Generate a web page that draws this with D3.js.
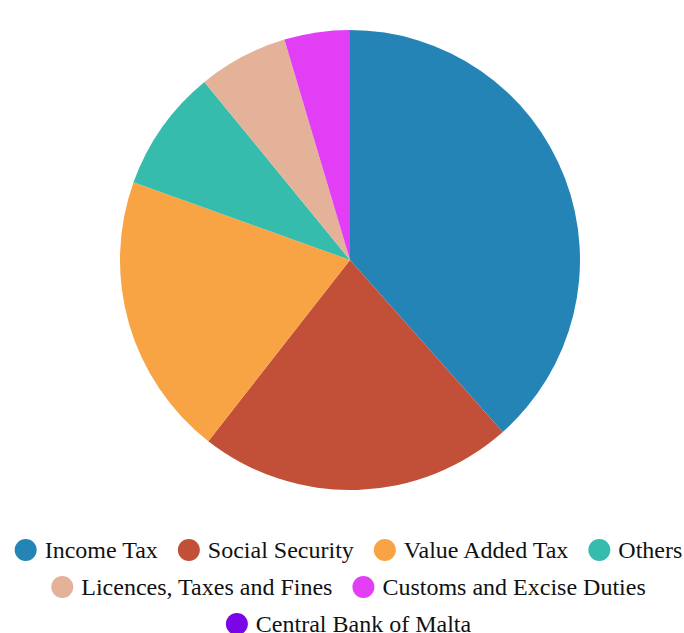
<!DOCTYPE html>
<html><head><meta charset="utf-8">
<script src="https://cdn.jsdelivr.net/npm/d3@7"></script>
<style>body{margin:0;background:#fff}svg{display:block}</style>
</head><body>
<svg id="c" width="684" height="633"></svg>
<script>
const categories = ["Income Tax","Social Security","Value Added Tax","Others","Licences, Taxes and Fines","Customs and Excise Duties","Central Bank of Malta"];
const values = [38.4, 22.1, 19.9, 8.6, 6.3, 4.6, 0.0];
const colors = ["#2384b5","#c24f38","#f8a444","#35bcad","#e3b299","#e23ef6","#7a05e8"];

const svg = d3.select("#c");
const W = 684, cx = 350, cy = 260, R = 230;
const color = d3.scaleOrdinal().domain(categories).range(colors);
const pie = d3.pie().sort(null).value(d => d.v);
const data = categories.map((c,i)=>({c, v: values[i]}));
const arc = d3.arc().innerRadius(0).outerRadius(R);
svg.append("g").attr("transform",`translate(${cx},${cy})`)
  .selectAll("path").data(pie(data)).join("path")
  .attr("d", arc).attr("fill", d => color(d.data.c));

// legend
const fs = 24, r = 11, gapText = 8, gapItem = 20, rowH = 37, y0 = 550, lcx = 348.5;
const lg = svg.append("g");
const items = categories.map(c => {
  const g = lg.append("g");
  g.append("circle").attr("r", r).attr("cx", r).attr("cy", 0).attr("fill", color(c));
  const t = g.append("text").attr("x", 2*r + gapText).attr("y", 0).attr("dy","0.35em")
    .style("font-family","'Liberation Serif', 'Times New Roman', Times, serif").style("font-size", fs + "px")
    .attr("fill","#111").text(c);
  const w = 2*r + gapText + t.node().getComputedTextLength();
  return {g, w};
});
const rows = []; let cur = [], cw = 0;
items.forEach(it => {
  const add = (cur.length ? gapItem : 0) + it.w;
  if (cw + add > W && cur.length) { rows.push({cur, cw}); cur = [it]; cw = it.w; }
  else { cur.push(it); cw += add; }
});
rows.push({cur, cw});
rows.forEach((row, ri) => {
  let x = lcx - row.cw / 2;
  row.cur.forEach(it => { it.g.attr("transform", `translate(${x},${y0 + ri*rowH})`); x += it.w + gapItem; });
});
</script>
</body></html>
